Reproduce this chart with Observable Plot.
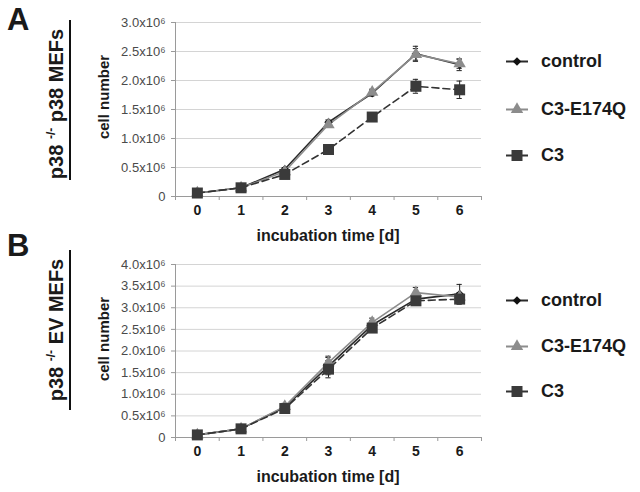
<!DOCTYPE html>
<html>
<head>
<meta charset="utf-8">
<script src="https://cdn.jsdelivr.net/npm/d3@7"></script>
<script src="https://cdn.jsdelivr.net/npm/@observablehq/plot@0.6"></script>
<style>
  html, body { margin: 0; padding: 0; background: #fff; }
  #root { position: relative; width: 640px; height: 492px; overflow: hidden; font-family: "Liberation Sans", Arial, sans-serif; color: #1a1a1a; }
  .abs { position: absolute; }
  .rot { position: absolute; transform: translate(-50%, -50%) rotate(-90deg); white-space: nowrap; font-weight: bold; }
  .ctr { position: absolute; transform: translate(-50%, -50%); white-space: nowrap; font-weight: bold; }
  .leg { position: absolute; display: flex; align-items: center; transform: translateY(-50%); font-weight: bold; font-size: 18px; white-space: nowrap; }
  .leg svg { margin-right: 12px; }
  sup { font-size: 12px; vertical-align: 0; position: relative; top: -8px; }
</style>
</head>
<body>
<div id="root"></div>
<script>
// ---- data ----
const days = [0, 1, 2, 3, 4, 5, 6];
const seriesNames = ["control", "C3-E174Q", "C3"];
const yTicksA = [0, 0.5e6, 1.0e6, 1.5e6, 2.0e6, 2.5e6, 3.0e6];
const yTicksB = [0, 0.5e6, 1.0e6, 1.5e6, 2.0e6, 2.5e6, 3.0e6, 3.5e6, 4.0e6];

// Panel A: p38 -/- p38 MEFs
const aControl  = [0.06, 0.15, 0.47, 1.28, 1.78, 2.46, 2.27];
const aE174Q    = [0.06, 0.15, 0.43, 1.24, 1.80, 2.45, 2.29];
const aC3       = [0.06, 0.15, 0.38, 0.81, 1.37, 1.90, 1.84];
const aControlErr = [0, 0, 0.03, 0.04, 0.05, 0.13, 0.10];
const aE174QErr   = [0, 0, 0.02, 0.05, 0.05, 0.10, 0.08];
const aC3Err      = [0, 0, 0.03, 0.03, 0.03, 0.12, 0.15];

// Panel B: p38 -/- EV MEFs
const bControl  = [0.06, 0.20, 0.70, 1.65, 2.60, 3.20, 3.32];
const bE174Q    = [0.06, 0.20, 0.72, 1.73, 2.66, 3.35, 3.25];
const bC3       = [0.06, 0.20, 0.67, 1.58, 2.53, 3.16, 3.20];
const bControlErr = [0, 0.02, 0.08, 0.20, 0.10, 0.10, 0.22];
const bE174QErr   = [0, 0.02, 0.07, 0.15, 0.10, 0.12, 0.10];
const bC3Err      = [0, 0.02, 0.10, 0.20, 0.10, 0.08, 0.12];

// ---- styles ----
const styles = {
  "control":  {fill: "#111", stroke: "#2a2a2a", symbol: "diamond2", r: 3.8, dash: null},
  "C3-E174Q": {fill: "#8c8c8c", stroke: "#8c8c8c", symbol: "triangle", r: 4.6, dash: null},
  "C3":       {fill: "#3a3a3a", stroke: "#333", symbol: "square", r: 6.2, dash: "7,4"}
};

function rows(values, errs) {
  const out = [];
  seriesNames.forEach((s, i) => {
    days.forEach((d, j) => out.push({series: s, day: d, value: values[i][j] * 1e6, err: errs[i][j] * 1e6}));
  });
  return out;
}

function fmt(v) {
  if (v === 0) return "0";
  return (v / 1e6).toFixed(1) + "x10\u2076";
}

function panel(data, yTicks, ymax, height, marginTop, marginBottom) {
  const bounds = days.map(d => d - 0.5).concat([days[days.length - 1] + 0.5]);
  const marks = [
    Plot.gridY(yTicks.filter(t => t > 0), {stroke: "#d4d4d4", strokeOpacity: 1}),
    Plot.axisY(yTicks, {tickSize: 4, tickPadding: 6, tickFormat: fmt, fontSize: 13, fill: "#4a4a4a", stroke: "#9a9a9a", label: null}),
    Plot.axisX(bounds, {tickSize: 4, tickFormat: () => "", stroke: "#9a9a9a", label: null}),
    Plot.axisX(days, {tickSize: 0, tickPadding: 9, fontSize: 14, fontWeight: "bold", fill: "#1a1a1a", label: null}),
    Plot.ruleX([bounds[0]], {stroke: "#9a9a9a"}),
    Plot.ruleY([0], {stroke: "#9a9a9a"})
  ];
  for (const s of seriesNames) {
    const st = styles[s];
    marks.push(Plot.line(data.filter(d => d.series === s), {x: "day", y: "value", stroke: st.stroke, strokeWidth: 1.6, strokeDasharray: st.dash}));
  }
  for (const s of seriesNames) {
    const st = styles[s];
    const sd = data.filter(d => d.series === s && d.err > 0);
    marks.push(Plot.ruleX(sd, {x: "day", y1: d => d.value - d.err, y2: d => d.value + d.err, stroke: "#222", strokeWidth: 1}));
    marks.push(Plot.ruleY(sd, {x1: d => d.day - 0.06, x2: d => d.day + 0.06, y: d => d.value + d.err, stroke: "#222", strokeWidth: 1}));
    marks.push(Plot.ruleY(sd, {x1: d => d.day - 0.06, x2: d => d.day + 0.06, y: d => d.value - d.err, stroke: "#222", strokeWidth: 1}));
  }
  for (const s of seriesNames) {
    const st = styles[s];
    marks.push(Plot.dot(data.filter(d => d.series === s), {x: "day", y: "value", symbol: () => st.symbol, fill: st.fill, stroke: "none", r: st.r}));
  }
  return Plot.plot({
    width: 640, height, marginLeft: 175, marginRight: 159, marginTop, marginBottom,
    x: {domain: [bounds[0], bounds[bounds.length - 1]], axis: null},
    y: {domain: [0, ymax], axis: null},
    symbol: {type: "identity"},
    style: {fontFamily: "'Liberation Sans', Arial, sans-serif", background: "transparent", overflow: "visible"},
    marks
  });
}

const root = document.getElementById("root");

const svgA = panel(rows([aControl, aE174Q, aC3], [aControlErr, aE174QErr, aC3Err]), yTicksA, 3.0e6, 245, 22, 49);
svgA.style.position = "absolute"; svgA.style.left = "0px"; svgA.style.top = "0px";
root.appendChild(svgA);

const svgB = panel(rows([bControl, bE174Q, bC3], [bControlErr, bE174QErr, bC3Err]), yTicksB, 4.0e6, 247, 19, 55);
svgB.style.position = "absolute"; svgB.style.left = "0px"; svgB.style.top = "245px";
root.appendChild(svgB);

function addHTML(html) { root.insertAdjacentHTML("beforeend", html); }

// panel letters
addHTML('<div class="abs" style="left:7px;top:2px;font-size:31px;font-weight:bold;">A</div>');
addHTML('<div class="abs" style="left:7px;top:228px;font-size:31px;font-weight:bold;">B</div>');

// rotated row labels
addHTML('<div class="rot" style="left:56px;top:104px;font-size:20px;">p38 <sup>-/-</sup> p38 MEFs</div>');
addHTML('<div class="abs" style="left:69px;top:20px;width:2px;height:160px;background:#111;"></div>');
addHTML('<div class="rot" style="left:56px;top:330px;font-size:20px;">p38 <sup>-/-</sup> EV MEFs</div>');
addHTML('<div class="abs" style="left:69px;top:250px;width:2px;height:160px;background:#111;"></div>');

// y titles
addHTML('<div class="rot" style="left:103px;top:97px;font-size:15px;">cell number</div>');
addHTML('<div class="rot" style="left:103px;top:339px;font-size:15px;">cell number</div>');

// x titles
addHTML('<div class="ctr" style="left:328px;top:236px;font-size:16px;">incubation time [d]</div>');
addHTML('<div class="ctr" style="left:328px;top:477px;font-size:16px;">incubation time [d]</div>');

// legends
function legendIcon(s) {
  const st = styles[s];
  const sym = d3.symbol(s === "control" ? d3.symbolDiamond2 : s === "C3-E174Q" ? d3.symbolTriangle : d3.symbolSquare, Math.PI * st.r * st.r)();
  return `<svg width="24" height="16" viewBox="-12 -8 24 16"><line x1="-11" x2="11" y1="0" y2="0" stroke="${st.stroke}" stroke-width="2"/><path d="${sym}" fill="${st.fill}"/></svg>`;
}
const legYA = [61, 109, 155];
const legYB = [300, 346, 391];
seriesNames.forEach((s, i) => {
  addHTML(`<div class="leg" style="left:505px;top:${legYA[i]}px;">${legendIcon(s)}<span>${s}</span></div>`);
  addHTML(`<div class="leg" style="left:505px;top:${legYB[i]}px;">${legendIcon(s)}<span>${s}</span></div>`);
});
</script>
</body>
</html>
